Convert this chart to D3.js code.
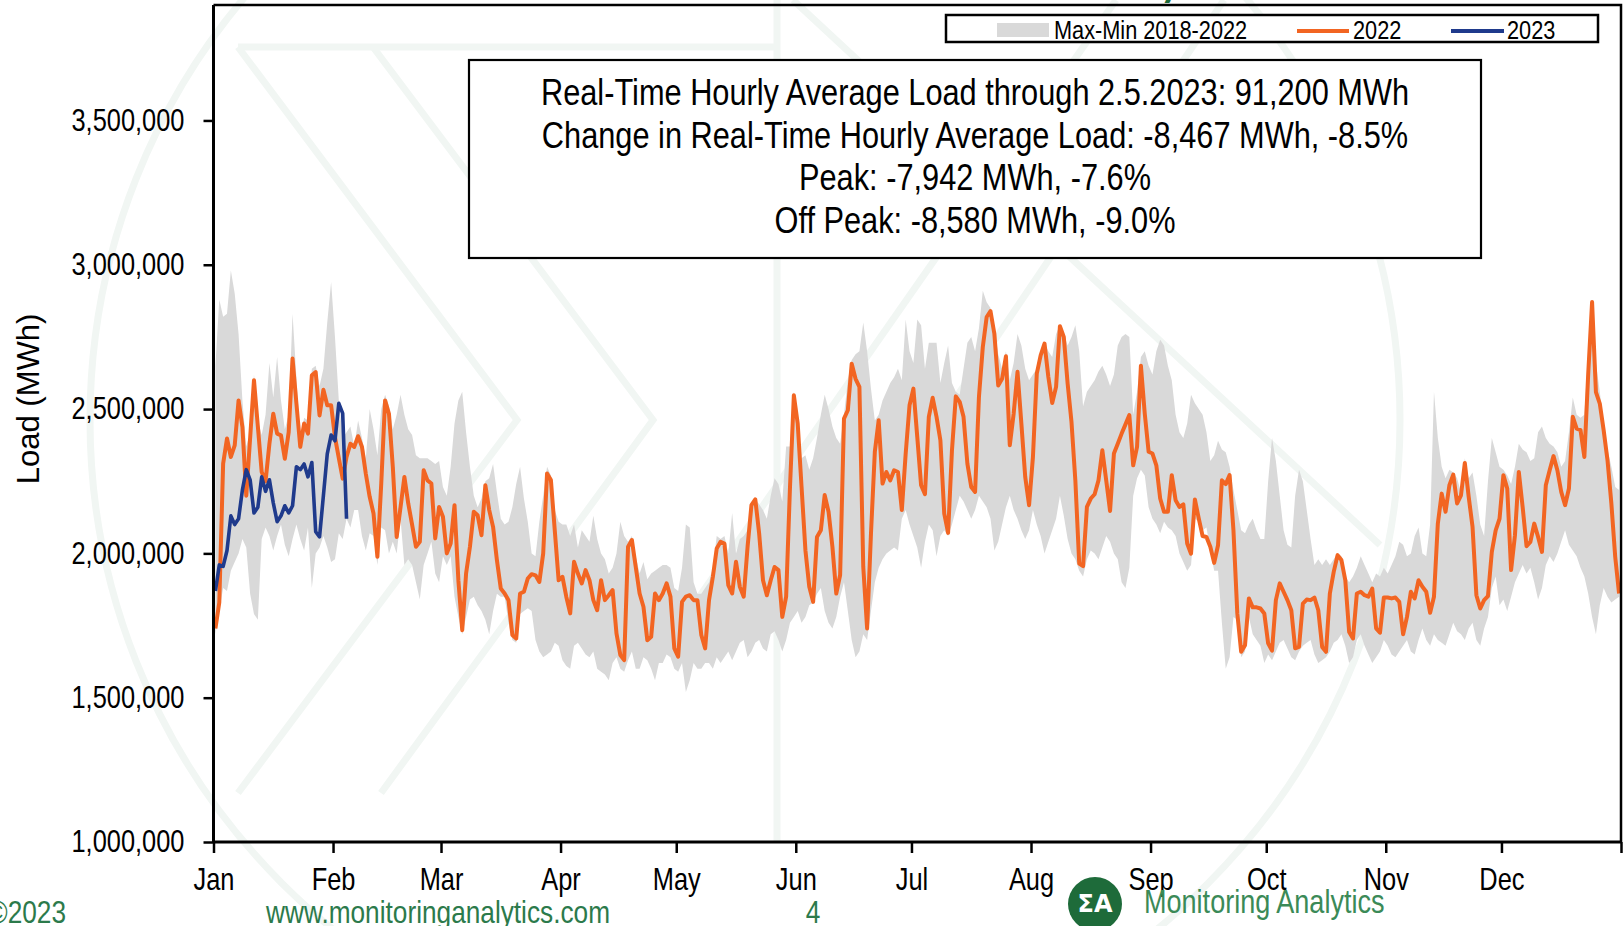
<!DOCTYPE html>
<html>
<head>
<meta charset="utf-8">
<script src="https://d3js.org/d3.v7.min.js"></script>
<style>
  body { margin: 0; background: #fff; }
  svg { display: block; font-family: "Liberation Sans", Arial, sans-serif; }
</style>
</head>
<body>
<script>
// daily loads, in thousand MWh (index 0 = Jan 1)
const months = ["Jan", "Feb", "Mar", "Apr", "May", "Jun", "Jul", "Aug", "Sep", "Oct", "Nov", "Dec"];
const monthStartDay = [0, 31, 59, 90, 120, 151, 181, 212, 243, 273, 304, 334, 365];
const yTicks = [1000000, 1500000, 2000000, 2500000, 3000000, 3500000];

const load2022 = [
  1740,1830,2311,2398,2334,2374,2530,2438,2200,2400, 2600,2440,2282,2250,2380,2484,2415,2409,2328,2420,
  2675,2520,2369,2450,2415,2617,2628,2478,2567,2513, 2513,2403,2330,2259,2334,2380,2369,2406,2369,2276,
  2196,2138,1988,2242,2530,2484,2300,2057,2160,2265, 2173,2100,2023,2040,2288,2253,2242,2052,2161,2127,
  2000,2034,2167,1907,1734,1930,2023,2144,2132,2063, 2236,2150,2092,1976,1878,1861,1838,1717,1705,1861,
  1867,1913,1928,1924,1901,2000,2277,2254,2080,1907, 1919,1849,1792,1971,1930,1896,1942,1907,1838,1803,
  1907,1838,1855,1873,1723,1648,1630,2023,2046,1953, 1861,1815,1699,1711,1861,1838,1861,1896,1850,1671,
  1642,1832,1850,1855,1838,1838,1717,1671,1838,1919, 2017,2040,2034,1890,1861,1971,1884,1850,2023,2167,
  2187,2069,1907,1855,1907,1953,1942,1780,1850,2230, 2548,2450,2230,2011,1884,1832,2057,2080,2202,2144,
  2023,1861,1925,2467,2496,2657,2605,2577,1953,1740, 2069,2352,2461,2242,2282,2253,2288,2282,2150,2346,
  2513,2571,2404,2236,2205,2473,2539,2473,2392,2138, 2071,2357,2544,2525,2473,2311,2230,2213,2542,2715,
  2819,2839,2761,2582,2605,2683,2375,2484,2629,2450, 2265,2167,2334,2623,2686,2727,2611,2521,2577,2787,
  2750,2588,2455,2253,1965,1956,2161,2190,2205,2253, 2357,2253,2147,2346,2380,2415,2447,2479,2305,2369,
  2650,2484,2352,2346,2305,2190,2144,2144,2271,2184, 2161,2170,2034,1999,2187,2121,2060,2057,2023,1967,
  2028,2253,2240,2271,2080,1792,1659,1682,1844,1813, 1813,1809,1792,1688,1663,1838,1896,1867,1838,1803,
  1671,1676,1826,1840,1838,1847,1803,1676,1659,1861, 1936,1994,1977,1907,1728,1705,1861,1867,1855,1850,
  1878,1740,1725,1847,1847,1844,1847,1832,1720,1780, 1867,1844,1907,1884,1867,1794,1850,2103,2207,2144,
  2236,2273,2173,2201,2313,2196,2092,1855,1809,1838, 1852,2005,2080,2120,2271,2225,1942,2063,2282,2160,
  2025,2040,2103,2057,2005,2236,2288,2337,2288,2213, 2167,2225,2473,2432,2427,2334,2623,2871,2559,2519,
  2427,2323,2173,1988,1861
];

const bandMax = [
  2650,2880,2820,2830,2980,2900,2760,2530,2370,2420, 2620,2460,2410,2480,2660,2540,2680,2530,2430,2480,
  2830,2610,2390,2470,2460,2640,2650,2580,2640,2800, 2940,2750,2530,2400,2420,2440,2370,2460,2400,2330,
  2500,2430,2340,2500,2550,2510,2430,2480,2550,2480, 2430,2410,2340,2330,2330,2330,2320,2310,2320,2230,
  2200,2300,2450,2530,2560,2420,2300,2200,2160,2190, 2250,2260,2310,2210,2120,2100,2110,2160,2240,2300,
  2190,2110,2000,1990,2110,2200,2300,2270,2150,2110, 2100,2100,2060,2100,2020,2080,2060,2040,2130,2050,
  2000,1980,1930,1950,2000,2110,2060,2040,2060,1990, 1930,1970,1910,1930,1940,1950,1960,1960,1950,1880,
  1870,1950,2100,2090,1900,1860,1860,1880,1900,1950, 2060,2050,2060,2000,2140,2000,2050,2060,2080,2170,
  2190,2170,2150,2120,2200,2260,2240,2180,2370,2370, 2560,2470,2330,2340,2290,2330,2400,2480,2550,2500,
  2440,2400,2380,2480,2600,2670,2690,2700,2800,2700, 2570,2460,2480,2530,2560,2590,2610,2640,2600,2810,
  2700,2660,2810,2790,2640,2730,2730,2730,2590,2660, 2720,2590,2560,2550,2640,2730,2750,2700,2780,2910,
  2870,2850,2780,2690,2640,2700,2600,2660,2760,2720, 2640,2600,2620,2640,2700,2730,2700,2680,2760,2790,
  2760,2720,2750,2790,2700,2510,2560,2580,2600,2630, 2650,2620,2580,2620,2720,2750,2760,2750,2480,2560,
  2680,2700,2650,2620,2700,2740,2720,2650,2600,2480, 2420,2400,2450,2550,2520,2500,2480,2420,2320,2340,
  2390,2360,2350,2300,2220,2150,2080,2070,2100,2120, 2080,2050,2050,2250,2400,2320,2200,2080,2030,2020,
  2200,2290,2250,2150,2050,1960,1980,1960,1980,1960, 1980,2000,1990,1920,1900,1920,1950,1990,1960,1930,
  1900,1930,1920,1950,1930,1960,1990,2040,2030,1990, 2000,2060,2090,2000,1990,2100,2560,2400,2300,2260,
  2290,2280,2260,2210,2330,2260,2280,2200,2100,2060, 2250,2400,2350,2300,2290,2270,2240,2300,2380,2360,
  2350,2320,2330,2420,2440,2400,2380,2370,2350,2300, 2320,2420,2540,2480,2470,2480,2700,2880,2660,2560,
  2440,2360,2300,2230,2220
];

const bandMin = [
  1720,1800,1880,1870,1940,1970,2000,2050,2020,1860, 1790,1770,2050,2090,2060,2010,2060,2100,2030,1990,
  2050,2100,2050,2010,2090,1880,2000,2020,2060,2020, 1970,1980,2070,2050,2120,2090,2150,2150,2060,2010,
  2070,2060,1960,2090,2080,2000,2040,2000,2120,1960, 1980,1960,1900,1840,1960,2000,2040,1930,1900,1990,
  1960,1990,1850,1780,1720,1780,1840,1850,1820,1800, 1770,1720,1800,1860,1850,1850,1760,1700,1690,1790,
  1800,1810,1800,1700,1660,1640,1650,1660,1690,1680, 1630,1610,1600,1680,1690,1670,1650,1640,1660,1600,
  1590,1580,1560,1620,1640,1600,1590,1630,1660,1600, 1600,1640,1630,1600,1560,1620,1620,1650,1640,1600,
  1590,1620,1520,1560,1620,1600,1600,1620,1620,1600, 1640,1620,1640,1660,1630,1660,1690,1700,1640,1660,
  1690,1700,1670,1660,1720,1730,1700,1660,1700,1760, 1780,1800,1760,1780,1820,1830,1860,1880,1800,1760,
  1740,1780,1850,1900,1800,1700,1640,1660,1720,1700, 1800,1900,1950,1980,2000,2010,2020,2010,2120,2150,
  2100,2060,2020,1950,2040,2100,2080,1990,2060,2080, 2060,2100,2150,2200,2180,2150,2120,2150,2200,2180,
  2160,2120,2010,2040,2100,2160,2200,2150,2120,2080, 2050,2080,2150,2100,2060,2000,2040,2080,2120,2200,
  2130,2050,2000,1980,1940,1920,1980,2010,2000,1980, 2020,2060,2040,2000,1980,1900,1880,1950,2200,2260,
  2290,2270,2160,2120,2100,2070,2110,2090,2080,2060, 2000,1970,1940,1960,2120,2110,2080,2090,2010,1940,
  1940,1760,1600,1640,1780,1770,1640,1660,1780,1720, 1700,1680,1620,1650,1630,1660,1690,1700,1670,1640,
  1630,1660,1680,1690,1700,1650,1620,1630,1640,1660, 1690,1700,1720,1680,1620,1640,1700,1720,1680,1650,
  1620,1640,1660,1700,1680,1650,1640,1660,1680,1700, 1660,1650,1700,1740,1700,1680,1720,1700,1690,1680,
  1720,1760,1730,1720,1700,1740,1760,1700,1680,1740, 1780,1880,1920,1820,1840,1800,1850,1900,1930,1960,
  1930,1950,1900,1840,1880,1960,1990,1970,2000,2040, 2080,2030,2010,1990,1950,1920,1860,1780,1720,1820,
  1880,1850,1830,1840,1850
];

const load2023 = [
  1870,1960,1955,2010,2130,2100,2120,2220,2290,2255, 2140,2160,2265,2215,2255,2175,2110,2130,2165,2140,
  2165,2300,2290,2310,2265,2315,2075,2057,2200,2345, 2410,2390,2520,2485,2120
];

const noteLines = [
  "Real-Time Hourly Average Load through 2.5.2023: 91,200 MWh",
  "Change in Real-Time Hourly Average Load: -8,467 MWh, -8.5%",
  "Peak: -7,942 MWh, -7.6%",
  "Off Peak: -8,580 MWh, -9.0%"
];

const colors = { band: "#d9d9d9", y2022: "#f26522", y2023: "#1f3a8c", green: "#2c7a4b" };

const W = 1624, H = 926;
const plot = { left: 213.5, right: 1621, top: 5, bottom: 842 };

// Arial-Narrow look: Liberation Sans squeezed horizontally around each text's anchor
function narrow(sel, k = 0.82) {
  sel.each(function() {
    const t = d3.select(this);
    const x0 = +t.attr("x") || 0, y0 = +t.attr("y") || 0;
    t.attr("x", null).attr("y", null)
        .attr("transform", `translate(${x0},${y0}) scale(${k},1)`)
        .attr("font-family", "'Liberation Sans', Arial, sans-serif");
  });
}

const svg = d3.select("body").append("svg")
    .attr("width", W)
    .attr("height", H);

const x = d3.scaleLinear().domain([0, 365]).range([plot.left, plot.right]);
const y = d3.scaleLinear().domain([1000000, 3900000]).range([plot.bottom, plot.top]);

// faint logo watermark behind the chart
const wm = svg.append("g")
    .attr("fill", "none")
    .attr("stroke", "#f1f6f3")
    .attr("stroke-width", 7);
wm.append("circle").attr("cx", 745).attr("cy", 420).attr("r", 655);
const wmPaths = [
  [[238, 47], [780, 47]],
  [[238, 47], [517, 420], [238, 793]],
  [[373, 47], [653, 420], [381, 793]],
  [[777, 0], [777, 842]],
  [[793, 0], [1380, 545]],
  [[1116, 0], [690, 610]],
  [[1224, 0], [860, 540]]
];
wmPaths.forEach(p => wm.append("path").attr("d", d3.line()(p)));

// max-min band
const band = d3.area()
    .x((d, i) => x(i + 0.5))
    .y0((d, i) => y(bandMin[i] * 1000))
    .y1(d => y(d * 1000));

svg.append("path")
    .attr("d", band(bandMax))
    .attr("fill", colors.band);

const line = d3.line()
    .x((d, i) => x(i + 0.5))
    .y(d => y(d * 1000));

svg.append("path")
    .attr("d", line(load2022))
    .attr("fill", "none")
    .attr("stroke", colors.y2022)
    .attr("stroke-width", 4)
    .attr("stroke-linejoin", "round");

svg.append("path")
    .attr("d", line(load2023))
    .attr("fill", "none")
    .attr("stroke", colors.y2023)
    .attr("stroke-width", 3.6)
    .attr("stroke-linejoin", "round");

// axes
const yAxis = svg.append("g")
    .attr("transform", `translate(${plot.left},0)`)
    .call(d3.axisLeft(y).tickValues(yTicks).tickFormat(d3.format(",")).tickSize(10).tickPadding(19));

const xAxis = svg.append("g")
    .attr("transform", `translate(0,${plot.bottom})`)
    .call(d3.axisBottom(x).tickValues(monthStartDay)
        .tickFormat((d, i) => months[i] || "").tickSize(11).tickPadding(15));

[yAxis, xAxis].forEach(g => {
  g.attr("font-family", null);
  g.selectAll("text").attr("font-size", 31).attr("fill", "#000");
  g.selectAll("line").attr("stroke", "#000").attr("stroke-width", 2.5);
  g.select(".domain").attr("stroke", "#000").attr("stroke-width", 3);
  narrow(g.selectAll("text"));
});
yAxis.select(".domain").attr("d", `M0,${plot.bottom}V${plot.top}`);
xAxis.select(".domain").attr("d", `M${plot.left},0H${plot.right}`);

// top and right frame
svg.append("path")
    .attr("d", `M${plot.left},${plot.top}H${plot.right}V${plot.bottom}`)
    .attr("fill", "none")
    .attr("stroke", "#000")
    .attr("stroke-width", 2.5);

svg.append("text")
    .attr("transform", "translate(28,399) rotate(-90)")
    .attr("text-anchor", "middle")
    .attr("dy", "0.35em")
    .attr("font-size", 31)
    .text("Load (MWh)");

// annotation box
svg.append("rect")
    .attr("x", 469).attr("y", 60)
    .attr("width", 1012).attr("height", 198)
    .attr("fill", "#fff")
    .attr("stroke", "#000")
    .attr("stroke-width", 2.2);

svg.append("g")
    .selectAll("text")
    .data(noteLines)
    .join("text")
    .attr("x", 975)
    .attr("y", (d, i) => 105 + i * 42.5)
    .attr("text-anchor", "middle")
    .attr("font-size", 37.5)
    .text(d => d)
    .call(narrow);

// legend
const legend = svg.append("g");
legend.append("rect")
    .attr("x", 946).attr("y", 15)
    .attr("width", 652).attr("height", 27)
    .attr("fill", "#fff")
    .attr("stroke", "#000")
    .attr("stroke-width", 2.5);
legend.append("rect")
    .attr("x", 997).attr("y", 23)
    .attr("width", 52).attr("height", 14)
    .attr("fill", colors.band);
legend.append("text").attr("x", 1054).attr("y", 39).attr("font-size", 26.5).text("Max-Min 2018-2022");
legend.append("line")
    .attr("x1", 1297).attr("x2", 1349).attr("y1", 31).attr("y2", 31)
    .attr("stroke", colors.y2022).attr("stroke-width", 4);
legend.append("text").attr("x", 1353).attr("y", 39).attr("font-size", 26.5).text("2022");
legend.append("line")
    .attr("x1", 1451).attr("x2", 1504).attr("y1", 31).attr("y2", 31)
    .attr("stroke", colors.y2023).attr("stroke-width", 4);
legend.append("text").attr("x", 1507).attr("y", 39).attr("font-size", 26.5).text("2023");
narrow(legend.selectAll("text"));

// cut-off title descender
svg.append("text")
    .attr("x", 1160).attr("y", -4)
    .attr("font-family", "Lato, sans-serif")
    .attr("font-weight", "bold")
    .attr("font-size", 40)
    .attr("fill", "#1e6b3a")
    .text("y");

// footer
const footer = svg.append("g").attr("fill", colors.green).attr("font-size", 32);
footer.append("text").attr("x", 66).attr("y", 923).attr("text-anchor", "end").text("©2023");
footer.append("text").attr("x", 266).attr("y", 923).text("www.monitoringanalytics.com");
footer.append("text").attr("x", 813).attr("y", 923).attr("text-anchor", "middle").text("4");
narrow(footer.selectAll("text"));

const logo = svg.append("g").attr("transform", "translate(1095,904)");
logo.append("circle").attr("r", 27).attr("fill", "#1e6b3a");
logo.append("text")
    .attr("text-anchor", "middle")
    .attr("dy", "0.35em")
    .attr("font-family", "'DejaVu Sans', sans-serif")
    .attr("font-weight", "bold")
    .attr("font-size", 24)
    .attr("fill", "#fff")
    .text("ΣA");
svg.append("text")
    .attr("x", 1144).attr("y", 913)
    .attr("font-size", 33)
    .attr("fill", "#3b8a57")
    .text("Monitoring Analytics")
    .call(narrow);
</script>
</body>
</html>
